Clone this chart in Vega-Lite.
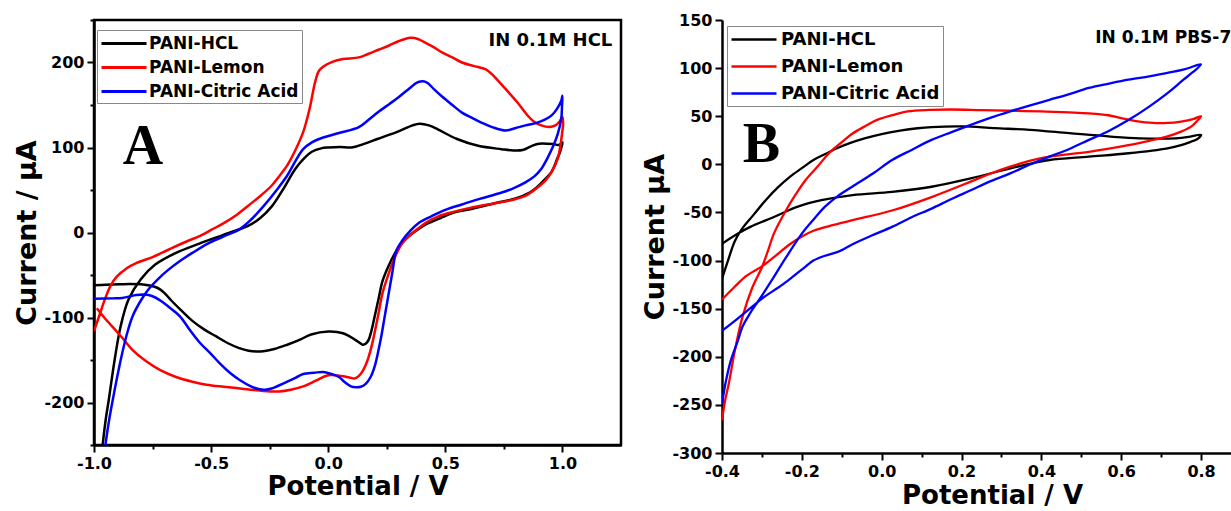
{
"$schema": "https://vega.github.io/schema/vega-lite/v6.json",
"padding": {"left": 12, "top": 12, "right": 0, "bottom": 0},
"bounds": "flush",
"spacing": 101,
"config": {"font": "DejaVu Sans", "view": {"stroke": null}, "axis": {"grid": false, "labelFlush": false, "domainColor": "black", "domainWidth": 2.5, "tickColor": "black", "tickWidth": 2, "labelColor": "black", "labelFont": "DejaVu Sans", "labelFontWeight": "bold", "labelFontSize": 16, "labelPadding": 3, "titleColor": "black", "titleFont": "DejaVu Sans", "titleFontWeight": "bold", "titleFontSize": 26}},
"resolve": {"scale": {"color": "independent"}, "legend": {"color": "independent"}},
"datasets": {
"a": [
{"s":"PANI-HCL","i":0,"v":-0.967,"c":-262},{"s":"PANI-HCL","i":1,"v":-0.963,"c":-250},{"s":"PANI-HCL","i":2,"v":-0.95,"c":-220},{"s":"PANI-HCL","i":3,"v":-0.937,"c":-197},{"s":"PANI-HCL","i":4,"v":-0.912,"c":-150},{"s":"PANI-HCL","i":5,"v":-0.886,"c":-110},{"s":"PANI-HCL","i":6,"v":-0.853,"c":-79},{"s":"PANI-HCL","i":7,"v":-0.80,"c":-55},{"s":"PANI-HCL","i":8,"v":-0.74,"c":-38},{"s":"PANI-HCL","i":9,"v":-0.65,"c":-24},{"s":"PANI-HCL","i":10,"v":-0.55,"c":-13},{"s":"PANI-HCL","i":11,"v":-0.45,"c":-3},{"s":"PANI-HCL","i":12,"v":-0.34,"c":8},{"s":"PANI-HCL","i":13,"v":-0.29,"c":17},{"s":"PANI-HCL","i":14,"v":-0.24,"c":31},{"s":"PANI-HCL","i":15,"v":-0.19,"c":52},{"s":"PANI-HCL","i":16,"v":-0.14,"c":75},{"s":"PANI-HCL","i":17,"v":-0.10,"c":88},{"s":"PANI-HCL","i":18,"v":-0.07,"c":95},{"s":"PANI-HCL","i":19,"v":-0.03,"c":99},{"s":"PANI-HCL","i":20,"v":0.0,"c":100},{"s":"PANI-HCL","i":21,"v":0.05,"c":100.5},{"s":"PANI-HCL","i":22,"v":0.1,"c":100},{"s":"PANI-HCL","i":23,"v":0.15,"c":104},{"s":"PANI-HCL","i":24,"v":0.21,"c":110},{"s":"PANI-HCL","i":25,"v":0.3,"c":119},{"s":"PANI-HCL","i":26,"v":0.36,"c":126},{"s":"PANI-HCL","i":27,"v":0.39,"c":128},{"s":"PANI-HCL","i":28,"v":0.43,"c":126},{"s":"PANI-HCL","i":29,"v":0.47,"c":121},{"s":"PANI-HCL","i":30,"v":0.55,"c":110},{"s":"PANI-HCL","i":31,"v":0.64,"c":102},{"s":"PANI-HCL","i":32,"v":0.74,"c":98},{"s":"PANI-HCL","i":33,"v":0.79,"c":96.5},{"s":"PANI-HCL","i":34,"v":0.83,"c":97},{"s":"PANI-HCL","i":35,"v":0.87,"c":102},{"s":"PANI-HCL","i":36,"v":0.9,"c":104.5},{"s":"PANI-HCL","i":37,"v":0.96,"c":104},{"s":"PANI-HCL","i":38,"v":0.985,"c":103},{"s":"PANI-HCL","i":39,"v":1.0,"c":106},{"s":"PANI-HCL","i":40,"v":0.99,"c":95},{"s":"PANI-HCL","i":41,"v":0.978,"c":87},{"s":"PANI-HCL","i":42,"v":0.955,"c":72},{"s":"PANI-HCL","i":43,"v":0.927,"c":63},{"s":"PANI-HCL","i":44,"v":0.89,"c":53},{"s":"PANI-HCL","i":45,"v":0.86,"c":47},{"s":"PANI-HCL","i":46,"v":0.8,"c":40},{"s":"PANI-HCL","i":47,"v":0.72,"c":35},{"s":"PANI-HCL","i":48,"v":0.6,"c":27},{"s":"PANI-HCL","i":49,"v":0.53,"c":23},{"s":"PANI-HCL","i":50,"v":0.47,"c":16},{"s":"PANI-HCL","i":51,"v":0.42,"c":10},{"s":"PANI-HCL","i":52,"v":0.385,"c":4},{"s":"PANI-HCL","i":53,"v":0.35,"c":-3},{"s":"PANI-HCL","i":54,"v":0.317,"c":-12},{"s":"PANI-HCL","i":55,"v":0.29,"c":-22},{"s":"PANI-HCL","i":56,"v":0.26,"c":-38},{"s":"PANI-HCL","i":57,"v":0.232,"c":-57},{"s":"PANI-HCL","i":58,"v":0.215,"c":-78},{"s":"PANI-HCL","i":59,"v":0.198,"c":-99},{"s":"PANI-HCL","i":60,"v":0.185,"c":-115},{"s":"PANI-HCL","i":61,"v":0.173,"c":-126},{"s":"PANI-HCL","i":62,"v":0.16,"c":-131},{"s":"PANI-HCL","i":63,"v":0.147,"c":-132},{"s":"PANI-HCL","i":64,"v":0.13,"c":-129},{"s":"PANI-HCL","i":65,"v":0.114,"c":-126},{"s":"PANI-HCL","i":66,"v":0.063,"c":-118.5},{"s":"PANI-HCL","i":67,"v":0.0,"c":-116.5},{"s":"PANI-HCL","i":68,"v":-0.073,"c":-120},{"s":"PANI-HCL","i":69,"v":-0.12,"c":-126},{"s":"PANI-HCL","i":70,"v":-0.175,"c":-132},{"s":"PANI-HCL","i":71,"v":-0.23,"c":-137},{"s":"PANI-HCL","i":72,"v":-0.29,"c":-140},{"s":"PANI-HCL","i":73,"v":-0.34,"c":-139},{"s":"PANI-HCL","i":74,"v":-0.38,"c":-136},{"s":"PANI-HCL","i":75,"v":-0.43,"c":-130},{"s":"PANI-HCL","i":76,"v":-0.48,"c":-122},{"s":"PANI-HCL","i":77,"v":-0.53,"c":-114},{"s":"PANI-HCL","i":78,"v":-0.58,"c":-104},{"s":"PANI-HCL","i":79,"v":-0.63,"c":-91},{"s":"PANI-HCL","i":80,"v":-0.67,"c":-80},{"s":"PANI-HCL","i":81,"v":-0.70,"c":-71},{"s":"PANI-HCL","i":82,"v":-0.73,"c":-65},{"s":"PANI-HCL","i":83,"v":-0.77,"c":-62},{"s":"PANI-HCL","i":84,"v":-0.8,"c":-61},{"s":"PANI-HCL","i":85,"v":-0.85,"c":-60.5},{"s":"PANI-HCL","i":86,"v":-0.89,"c":-61},{"s":"PANI-HCL","i":87,"v":-0.95,"c":-61.5},{"s":"PANI-HCL","i":88,"v":-1.0,"c":-62},
{"s":"PANI-Lemon","i":0,"v":-1.0,"c":-116},{"s":"PANI-Lemon","i":1,"v":-0.98,"c":-100},{"s":"PANI-Lemon","i":2,"v":-0.954,"c":-79},{"s":"PANI-Lemon","i":3,"v":-0.93,"c":-63},{"s":"PANI-Lemon","i":4,"v":-0.903,"c":-52},{"s":"PANI-Lemon","i":5,"v":-0.86,"c":-42},{"s":"PANI-Lemon","i":6,"v":-0.82,"c":-36},{"s":"PANI-Lemon","i":7,"v":-0.75,"c":-29},{"s":"PANI-Lemon","i":8,"v":-0.68,"c":-20},{"s":"PANI-Lemon","i":9,"v":-0.6,"c":-10},{"s":"PANI-Lemon","i":10,"v":-0.547,"c":-4},{"s":"PANI-Lemon","i":11,"v":-0.5,"c":3},{"s":"PANI-Lemon","i":12,"v":-0.446,"c":11},{"s":"PANI-Lemon","i":13,"v":-0.39,"c":21},{"s":"PANI-Lemon","i":14,"v":-0.344,"c":31},{"s":"PANI-Lemon","i":15,"v":-0.29,"c":43},{"s":"PANI-Lemon","i":16,"v":-0.242,"c":55},{"s":"PANI-Lemon","i":17,"v":-0.21,"c":66},{"s":"PANI-Lemon","i":18,"v":-0.175,"c":79},{"s":"PANI-Lemon","i":19,"v":-0.14,"c":97},{"s":"PANI-Lemon","i":20,"v":-0.107,"c":118},{"s":"PANI-Lemon","i":21,"v":-0.08,"c":145},{"s":"PANI-Lemon","i":22,"v":-0.056,"c":177},{"s":"PANI-Lemon","i":23,"v":-0.04,"c":190},{"s":"PANI-Lemon","i":24,"v":-0.022,"c":195},{"s":"PANI-Lemon","i":25,"v":0.02,"c":201},{"s":"PANI-Lemon","i":26,"v":0.063,"c":204},{"s":"PANI-Lemon","i":27,"v":0.131,"c":206},{"s":"PANI-Lemon","i":28,"v":0.17,"c":210},{"s":"PANI-Lemon","i":29,"v":0.215,"c":215},{"s":"PANI-Lemon","i":30,"v":0.26,"c":220},{"s":"PANI-Lemon","i":31,"v":0.3,"c":225},{"s":"PANI-Lemon","i":32,"v":0.351,"c":229},{"s":"PANI-Lemon","i":33,"v":0.38,"c":228},{"s":"PANI-Lemon","i":34,"v":0.41,"c":224},{"s":"PANI-Lemon","i":35,"v":0.45,"c":218},{"s":"PANI-Lemon","i":36,"v":0.486,"c":212},{"s":"PANI-Lemon","i":37,"v":0.53,"c":206},{"s":"PANI-Lemon","i":38,"v":0.571,"c":200},{"s":"PANI-Lemon","i":39,"v":0.62,"c":196},{"s":"PANI-Lemon","i":40,"v":0.673,"c":192},{"s":"PANI-Lemon","i":41,"v":0.70,"c":186},{"s":"PANI-Lemon","i":42,"v":0.724,"c":179},{"s":"PANI-Lemon","i":43,"v":0.76,"c":168},{"s":"PANI-Lemon","i":44,"v":0.808,"c":153},{"s":"PANI-Lemon","i":45,"v":0.85,"c":138},{"s":"PANI-Lemon","i":46,"v":0.876,"c":131},{"s":"PANI-Lemon","i":47,"v":0.91,"c":126},{"s":"PANI-Lemon","i":48,"v":0.944,"c":124},{"s":"PANI-Lemon","i":49,"v":0.97,"c":126},{"s":"PANI-Lemon","i":50,"v":0.986,"c":130},{"s":"PANI-Lemon","i":51,"v":1.0,"c":136},{"s":"PANI-Lemon","i":52,"v":1.003,"c":128},{"s":"PANI-Lemon","i":53,"v":1.0,"c":120},{"s":"PANI-Lemon","i":54,"v":0.99,"c":100},{"s":"PANI-Lemon","i":55,"v":0.98,"c":87},{"s":"PANI-Lemon","i":56,"v":0.955,"c":72},{"s":"PANI-Lemon","i":57,"v":0.927,"c":61},{"s":"PANI-Lemon","i":58,"v":0.88,"c":50},{"s":"PANI-Lemon","i":59,"v":0.842,"c":43},{"s":"PANI-Lemon","i":60,"v":0.78,"c":38},{"s":"PANI-Lemon","i":61,"v":0.724,"c":35},{"s":"PANI-Lemon","i":62,"v":0.605,"c":29},{"s":"PANI-Lemon","i":63,"v":0.53,"c":24},{"s":"PANI-Lemon","i":64,"v":0.47,"c":19},{"s":"PANI-Lemon","i":65,"v":0.42,"c":12},{"s":"PANI-Lemon","i":66,"v":0.385,"c":5},{"s":"PANI-Lemon","i":67,"v":0.35,"c":-3},{"s":"PANI-Lemon","i":68,"v":0.317,"c":-12},{"s":"PANI-Lemon","i":69,"v":0.283,"c":-30},{"s":"PANI-Lemon","i":70,"v":0.26,"c":-47},{"s":"PANI-Lemon","i":71,"v":0.232,"c":-71},{"s":"PANI-Lemon","i":72,"v":0.215,"c":-95},{"s":"PANI-Lemon","i":73,"v":0.198,"c":-118},{"s":"PANI-Lemon","i":74,"v":0.185,"c":-134},{"s":"PANI-Lemon","i":75,"v":0.173,"c":-146},{"s":"PANI-Lemon","i":76,"v":0.16,"c":-156},{"s":"PANI-Lemon","i":77,"v":0.147,"c":-163},{"s":"PANI-Lemon","i":78,"v":0.13,"c":-169},{"s":"PANI-Lemon","i":79,"v":0.114,"c":-171.6},{"s":"PANI-Lemon","i":80,"v":0.09,"c":-170.5},{"s":"PANI-Lemon","i":81,"v":0.063,"c":-169},{"s":"PANI-Lemon","i":82,"v":0.0,"c":-168},{"s":"PANI-Lemon","i":83,"v":-0.05,"c":-174},{"s":"PANI-Lemon","i":84,"v":-0.107,"c":-181},{"s":"PANI-Lemon","i":85,"v":-0.16,"c":-185},{"s":"PANI-Lemon","i":86,"v":-0.208,"c":-187},{"s":"PANI-Lemon","i":87,"v":-0.276,"c":-186.5},{"s":"PANI-Lemon","i":88,"v":-0.36,"c":-184},{"s":"PANI-Lemon","i":89,"v":-0.446,"c":-181.5},{"s":"PANI-Lemon","i":90,"v":-0.52,"c":-179},{"s":"PANI-Lemon","i":91,"v":-0.58,"c":-175.5},{"s":"PANI-Lemon","i":92,"v":-0.65,"c":-170},{"s":"PANI-Lemon","i":93,"v":-0.717,"c":-162},{"s":"PANI-Lemon","i":94,"v":-0.78,"c":-151},{"s":"PANI-Lemon","i":95,"v":-0.836,"c":-138},{"s":"PANI-Lemon","i":96,"v":-0.87,"c":-127},{"s":"PANI-Lemon","i":97,"v":-0.903,"c":-116.5},{"s":"PANI-Lemon","i":98,"v":-0.95,"c":-102},{"s":"PANI-Lemon","i":99,"v":-0.988,"c":-89},
{"s":"PANI-Citric Acid","i":0,"v":-0.955,"c":-262},{"s":"PANI-Citric Acid","i":1,"v":-0.951,"c":-250},{"s":"PANI-Citric Acid","i":2,"v":-0.935,"c":-220},{"s":"PANI-Citric Acid","i":3,"v":-0.92,"c":-197},{"s":"PANI-Citric Acid","i":4,"v":-0.886,"c":-150},{"s":"PANI-Citric Acid","i":5,"v":-0.86,"c":-120},{"s":"PANI-Citric Acid","i":6,"v":-0.836,"c":-99},{"s":"PANI-Citric Acid","i":7,"v":-0.8,"c":-80},{"s":"PANI-Citric Acid","i":8,"v":-0.768,"c":-67},{"s":"PANI-Citric Acid","i":9,"v":-0.72,"c":-53},{"s":"PANI-Citric Acid","i":10,"v":-0.683,"c":-44},{"s":"PANI-Citric Acid","i":11,"v":-0.63,"c":-33},{"s":"PANI-Citric Acid","i":12,"v":-0.58,"c":-24},{"s":"PANI-Citric Acid","i":13,"v":-0.514,"c":-13},{"s":"PANI-Citric Acid","i":14,"v":-0.45,"c":-5},{"s":"PANI-Citric Acid","i":15,"v":-0.378,"c":4},{"s":"PANI-Citric Acid","i":16,"v":-0.33,"c":15},{"s":"PANI-Citric Acid","i":17,"v":-0.276,"c":31},{"s":"PANI-Citric Acid","i":18,"v":-0.22,"c":50},{"s":"PANI-Citric Acid","i":19,"v":-0.175,"c":67},{"s":"PANI-Citric Acid","i":20,"v":-0.14,"c":84},{"s":"PANI-Citric Acid","i":21,"v":-0.107,"c":98},{"s":"PANI-Citric Acid","i":22,"v":-0.07,"c":106},{"s":"PANI-Citric Acid","i":23,"v":-0.039,"c":110},{"s":"PANI-Citric Acid","i":24,"v":0.046,"c":117},{"s":"PANI-Citric Acid","i":25,"v":0.131,"c":124},{"s":"PANI-Citric Acid","i":26,"v":0.17,"c":132},{"s":"PANI-Citric Acid","i":27,"v":0.215,"c":142},{"s":"PANI-Citric Acid","i":28,"v":0.26,"c":151},{"s":"PANI-Citric Acid","i":29,"v":0.3,"c":159},{"s":"PANI-Citric Acid","i":30,"v":0.34,"c":168},{"s":"PANI-Citric Acid","i":31,"v":0.385,"c":177},{"s":"PANI-Citric Acid","i":32,"v":0.418,"c":177},{"s":"PANI-Citric Acid","i":33,"v":0.45,"c":169},{"s":"PANI-Citric Acid","i":34,"v":0.486,"c":160},{"s":"PANI-Citric Acid","i":35,"v":0.53,"c":150},{"s":"PANI-Citric Acid","i":36,"v":0.571,"c":141},{"s":"PANI-Citric Acid","i":37,"v":0.62,"c":134},{"s":"PANI-Citric Acid","i":38,"v":0.656,"c":129},{"s":"PANI-Citric Acid","i":39,"v":0.7,"c":124},{"s":"PANI-Citric Acid","i":40,"v":0.758,"c":120},{"s":"PANI-Citric Acid","i":41,"v":0.8,"c":123},{"s":"PANI-Citric Acid","i":42,"v":0.842,"c":126},{"s":"PANI-Citric Acid","i":43,"v":0.89,"c":129},{"s":"PANI-Citric Acid","i":44,"v":0.927,"c":133},{"s":"PANI-Citric Acid","i":45,"v":0.955,"c":138},{"s":"PANI-Citric Acid","i":46,"v":0.978,"c":146},{"s":"PANI-Citric Acid","i":47,"v":0.995,"c":155},{"s":"PANI-Citric Acid","i":48,"v":1.0,"c":161},{"s":"PANI-Citric Acid","i":49,"v":0.998,"c":148},{"s":"PANI-Citric Acid","i":50,"v":0.995,"c":134},{"s":"PANI-Citric Acid","i":51,"v":0.98,"c":116},{"s":"PANI-Citric Acid","i":52,"v":0.961,"c":102},{"s":"PANI-Citric Acid","i":53,"v":0.935,"c":87},{"s":"PANI-Citric Acid","i":54,"v":0.91,"c":75},{"s":"PANI-Citric Acid","i":55,"v":0.88,"c":66},{"s":"PANI-Citric Acid","i":56,"v":0.842,"c":59},{"s":"PANI-Citric Acid","i":57,"v":0.79,"c":52},{"s":"PANI-Citric Acid","i":58,"v":0.741,"c":47},{"s":"PANI-Citric Acid","i":59,"v":0.639,"c":39},{"s":"PANI-Citric Acid","i":60,"v":0.57,"c":33},{"s":"PANI-Citric Acid","i":61,"v":0.503,"c":27},{"s":"PANI-Citric Acid","i":62,"v":0.44,"c":19},{"s":"PANI-Citric Acid","i":63,"v":0.385,"c":11},{"s":"PANI-Citric Acid","i":64,"v":0.35,"c":2},{"s":"PANI-Citric Acid","i":65,"v":0.317,"c":-9},{"s":"PANI-Citric Acid","i":66,"v":0.29,"c":-22},{"s":"PANI-Citric Acid","i":67,"v":0.275,"c":-45},{"s":"PANI-Citric Acid","i":68,"v":0.258,"c":-72},{"s":"PANI-Citric Acid","i":69,"v":0.241,"c":-99},{"s":"PANI-Citric Acid","i":70,"v":0.228,"c":-120},{"s":"PANI-Citric Acid","i":71,"v":0.215,"c":-138},{"s":"PANI-Citric Acid","i":72,"v":0.2,"c":-156},{"s":"PANI-Citric Acid","i":73,"v":0.181,"c":-170},{"s":"PANI-Citric Acid","i":74,"v":0.16,"c":-178},{"s":"PANI-Citric Acid","i":75,"v":0.139,"c":-181.5},{"s":"PANI-Citric Acid","i":76,"v":0.118,"c":-182},{"s":"PANI-Citric Acid","i":77,"v":0.097,"c":-181},{"s":"PANI-Citric Acid","i":78,"v":0.07,"c":-176},{"s":"PANI-Citric Acid","i":79,"v":0.046,"c":-170},{"s":"PANI-Citric Acid","i":80,"v":0.01,"c":-166},{"s":"PANI-Citric Acid","i":81,"v":-0.022,"c":-164},{"s":"PANI-Citric Acid","i":82,"v":-0.06,"c":-165},{"s":"PANI-Citric Acid","i":83,"v":-0.107,"c":-166.5},{"s":"PANI-Citric Acid","i":84,"v":-0.14,"c":-171},{"s":"PANI-Citric Acid","i":85,"v":-0.175,"c":-175.5},{"s":"PANI-Citric Acid","i":86,"v":-0.242,"c":-183.5},{"s":"PANI-Citric Acid","i":87,"v":-0.27,"c":-185},{"s":"PANI-Citric Acid","i":88,"v":-0.293,"c":-184.5},{"s":"PANI-Citric Acid","i":89,"v":-0.33,"c":-181},{"s":"PANI-Citric Acid","i":90,"v":-0.378,"c":-173.5},{"s":"PANI-Citric Acid","i":91,"v":-0.42,"c":-165},{"s":"PANI-Citric Acid","i":92,"v":-0.463,"c":-154},{"s":"PANI-Citric Acid","i":93,"v":-0.5,"c":-143},{"s":"PANI-Citric Acid","i":94,"v":-0.547,"c":-130},{"s":"PANI-Citric Acid","i":95,"v":-0.59,"c":-115},{"s":"PANI-Citric Acid","i":96,"v":-0.632,"c":-99},{"s":"PANI-Citric Acid","i":97,"v":-0.66,"c":-92},{"s":"PANI-Citric Acid","i":98,"v":-0.683,"c":-87},{"s":"PANI-Citric Acid","i":99,"v":-0.717,"c":-80},{"s":"PANI-Citric Acid","i":100,"v":-0.75,"c":-75},{"s":"PANI-Citric Acid","i":101,"v":-0.785,"c":-73},{"s":"PANI-Citric Acid","i":102,"v":-0.82,"c":-73.5},{"s":"PANI-Citric Acid","i":103,"v":-0.853,"c":-75.5},{"s":"PANI-Citric Acid","i":104,"v":-0.88,"c":-77},{"s":"PANI-Citric Acid","i":105,"v":-0.92,"c":-77.5},{"s":"PANI-Citric Acid","i":106,"v":-1.0,"c":-78}
],
"b": [
{"s":"PANI-HCL","i":0,"v":-0.4,"c":-119},{"s":"PANI-HCL","i":1,"v":-0.385,"c":-100},{"s":"PANI-HCL","i":2,"v":-0.368,"c":-80},{"s":"PANI-HCL","i":3,"v":-0.35,"c":-67},{"s":"PANI-HCL","i":4,"v":-0.32,"c":-52},{"s":"PANI-HCL","i":5,"v":-0.29,"c":-37},{"s":"PANI-HCL","i":6,"v":-0.26,"c":-24},{"s":"PANI-HCL","i":7,"v":-0.23,"c":-13},{"s":"PANI-HCL","i":8,"v":-0.2,"c":-4},{"s":"PANI-HCL","i":9,"v":-0.171,"c":4.5},{"s":"PANI-HCL","i":10,"v":-0.14,"c":11},{"s":"PANI-HCL","i":11,"v":-0.112,"c":16.7},{"s":"PANI-HCL","i":12,"v":-0.08,"c":22},{"s":"PANI-HCL","i":13,"v":-0.043,"c":27},{"s":"PANI-HCL","i":14,"v":0.0,"c":31.5},{"s":"PANI-HCL","i":15,"v":0.046,"c":35},{"s":"PANI-HCL","i":16,"v":0.09,"c":37.5},{"s":"PANI-HCL","i":17,"v":0.125,"c":38.7},{"s":"PANI-HCL","i":18,"v":0.204,"c":39.4},{"s":"PANI-HCL","i":19,"v":0.282,"c":37.6},{"s":"PANI-HCL","i":20,"v":0.371,"c":35.9},{"s":"PANI-HCL","i":21,"v":0.47,"c":32.4},{"s":"PANI-HCL","i":22,"v":0.568,"c":29},{"s":"PANI-HCL","i":23,"v":0.647,"c":27},{"s":"PANI-HCL","i":24,"v":0.736,"c":27},{"s":"PANI-HCL","i":25,"v":0.77,"c":28.5},{"s":"PANI-HCL","i":26,"v":0.8,"c":30.7},{"s":"PANI-HCL","i":27,"v":0.79,"c":26},{"s":"PANI-HCL","i":28,"v":0.776,"c":23.7},{"s":"PANI-HCL","i":29,"v":0.75,"c":20},{"s":"PANI-HCL","i":30,"v":0.716,"c":16.7},{"s":"PANI-HCL","i":31,"v":0.618,"c":11.5},{"s":"PANI-HCL","i":32,"v":0.519,"c":8},{"s":"PANI-HCL","i":33,"v":0.42,"c":4.5},{"s":"PANI-HCL","i":34,"v":0.37,"c":0.5},{"s":"PANI-HCL","i":35,"v":0.322,"c":-4.2},{"s":"PANI-HCL","i":36,"v":0.223,"c":-14.6},{"s":"PANI-HCL","i":37,"v":0.125,"c":-23.3},{"s":"PANI-HCL","i":38,"v":0.026,"c":-28.6},{"s":"PANI-HCL","i":39,"v":-0.073,"c":-32},{"s":"PANI-HCL","i":40,"v":-0.151,"c":-37.3},{"s":"PANI-HCL","i":41,"v":-0.21,"c":-44},{"s":"PANI-HCL","i":42,"v":-0.27,"c":-54.7},{"s":"PANI-HCL","i":43,"v":-0.329,"c":-65},{"s":"PANI-HCL","i":44,"v":-0.36,"c":-72},{"s":"PANI-HCL","i":45,"v":-0.4,"c":-82.6},
{"s":"PANI-Lemon","i":0,"v":-0.4,"c":-266},{"s":"PANI-Lemon","i":1,"v":-0.392,"c":-245},{"s":"PANI-Lemon","i":2,"v":-0.383,"c":-228},{"s":"PANI-Lemon","i":3,"v":-0.368,"c":-194},{"s":"PANI-Lemon","i":4,"v":-0.349,"c":-159},{"s":"PANI-Lemon","i":5,"v":-0.324,"c":-128},{"s":"PANI-Lemon","i":6,"v":-0.3,"c":-107},{"s":"PANI-Lemon","i":7,"v":-0.285,"c":-90},{"s":"PANI-Lemon","i":8,"v":-0.27,"c":-72},{"s":"PANI-Lemon","i":9,"v":-0.24,"c":-48},{"s":"PANI-Lemon","i":10,"v":-0.215,"c":-31},{"s":"PANI-Lemon","i":11,"v":-0.19,"c":-16},{"s":"PANI-Lemon","i":12,"v":-0.16,"c":-2},{"s":"PANI-Lemon","i":13,"v":-0.132,"c":11.5},{"s":"PANI-Lemon","i":14,"v":-0.1,"c":23},{"s":"PANI-Lemon","i":15,"v":-0.073,"c":32},{"s":"PANI-Lemon","i":16,"v":-0.04,"c":40},{"s":"PANI-Lemon","i":17,"v":-0.013,"c":46},{"s":"PANI-Lemon","i":18,"v":0.03,"c":51.5},{"s":"PANI-Lemon","i":19,"v":0.065,"c":55},{"s":"PANI-Lemon","i":20,"v":0.12,"c":56.5},{"s":"PANI-Lemon","i":21,"v":0.174,"c":57},{"s":"PANI-Lemon","i":22,"v":0.25,"c":56.3},{"s":"PANI-Lemon","i":23,"v":0.322,"c":55.7},{"s":"PANI-Lemon","i":24,"v":0.4,"c":55},{"s":"PANI-Lemon","i":25,"v":0.47,"c":54},{"s":"PANI-Lemon","i":26,"v":0.52,"c":53},{"s":"PANI-Lemon","i":27,"v":0.568,"c":51},{"s":"PANI-Lemon","i":28,"v":0.6,"c":48},{"s":"PANI-Lemon","i":29,"v":0.637,"c":45},{"s":"PANI-Lemon","i":30,"v":0.68,"c":43},{"s":"PANI-Lemon","i":31,"v":0.716,"c":43},{"s":"PANI-Lemon","i":32,"v":0.75,"c":44.5},{"s":"PANI-Lemon","i":33,"v":0.78,"c":47},{"s":"PANI-Lemon","i":34,"v":0.8,"c":50},{"s":"PANI-Lemon","i":35,"v":0.79,"c":45},{"s":"PANI-Lemon","i":36,"v":0.776,"c":39.5},{"s":"PANI-Lemon","i":37,"v":0.75,"c":34},{"s":"PANI-Lemon","i":38,"v":0.716,"c":29},{"s":"PANI-Lemon","i":39,"v":0.67,"c":24.5},{"s":"PANI-Lemon","i":40,"v":0.618,"c":20},{"s":"PANI-Lemon","i":41,"v":0.519,"c":13},{"s":"PANI-Lemon","i":42,"v":0.42,"c":8},{"s":"PANI-Lemon","i":43,"v":0.37,"c":3.5},{"s":"PANI-Lemon","i":44,"v":0.322,"c":-2.4},{"s":"PANI-Lemon","i":45,"v":0.27,"c":-10},{"s":"PANI-Lemon","i":46,"v":0.223,"c":-18},{"s":"PANI-Lemon","i":47,"v":0.125,"c":-34},{"s":"PANI-Lemon","i":48,"v":0.026,"c":-48},{"s":"PANI-Lemon","i":49,"v":-0.073,"c":-58},{"s":"PANI-Lemon","i":50,"v":-0.12,"c":-63},{"s":"PANI-Lemon","i":51,"v":-0.171,"c":-69},{"s":"PANI-Lemon","i":52,"v":-0.2,"c":-75},{"s":"PANI-Lemon","i":53,"v":-0.23,"c":-83},{"s":"PANI-Lemon","i":54,"v":-0.27,"c":-96.5},{"s":"PANI-Lemon","i":55,"v":-0.3,"c":-106},{"s":"PANI-Lemon","i":56,"v":-0.339,"c":-116},{"s":"PANI-Lemon","i":57,"v":-0.37,"c":-128},{"s":"PANI-Lemon","i":58,"v":-0.4,"c":-140.5},
{"s":"PANI-Citric Acid","i":0,"v":-0.4,"c":-249},{"s":"PANI-Citric Acid","i":1,"v":-0.39,"c":-225},{"s":"PANI-Citric Acid","i":2,"v":-0.378,"c":-204},{"s":"PANI-Citric Acid","i":3,"v":-0.36,"c":-183},{"s":"PANI-Citric Acid","i":4,"v":-0.349,"c":-169},{"s":"PANI-Citric Acid","i":5,"v":-0.33,"c":-155},{"s":"PANI-Citric Acid","i":6,"v":-0.309,"c":-142},{"s":"PANI-Citric Acid","i":7,"v":-0.29,"c":-130},{"s":"PANI-Citric Acid","i":8,"v":-0.27,"c":-117},{"s":"PANI-Citric Acid","i":9,"v":-0.24,"c":-97},{"s":"PANI-Citric Acid","i":10,"v":-0.2,"c":-72},{"s":"PANI-Citric Acid","i":11,"v":-0.17,"c":-57},{"s":"PANI-Citric Acid","i":12,"v":-0.142,"c":-44},{"s":"PANI-Citric Acid","i":13,"v":-0.11,"c":-33},{"s":"PANI-Citric Acid","i":14,"v":-0.073,"c":-23},{"s":"PANI-Citric Acid","i":15,"v":-0.02,"c":-9},{"s":"PANI-Citric Acid","i":16,"v":0.026,"c":4.5},{"s":"PANI-Citric Acid","i":17,"v":0.075,"c":15},{"s":"PANI-Citric Acid","i":18,"v":0.125,"c":25.4},{"s":"PANI-Citric Acid","i":19,"v":0.175,"c":33.5},{"s":"PANI-Citric Acid","i":20,"v":0.223,"c":41},{"s":"PANI-Citric Acid","i":21,"v":0.27,"c":48},{"s":"PANI-Citric Acid","i":22,"v":0.322,"c":55},{"s":"PANI-Citric Acid","i":23,"v":0.37,"c":61},{"s":"PANI-Citric Acid","i":24,"v":0.42,"c":67},{"s":"PANI-Citric Acid","i":25,"v":0.47,"c":73},{"s":"PANI-Citric Acid","i":26,"v":0.519,"c":79.4},{"s":"PANI-Citric Acid","i":27,"v":0.57,"c":84},{"s":"PANI-Citric Acid","i":28,"v":0.618,"c":88},{"s":"PANI-Citric Acid","i":29,"v":0.67,"c":91.5},{"s":"PANI-Citric Acid","i":30,"v":0.716,"c":95},{"s":"PANI-Citric Acid","i":31,"v":0.76,"c":99},{"s":"PANI-Citric Acid","i":32,"v":0.8,"c":104},{"s":"PANI-Citric Acid","i":33,"v":0.78,"c":96},{"s":"PANI-Citric Acid","i":34,"v":0.756,"c":88},{"s":"PANI-Citric Acid","i":35,"v":0.716,"c":74},{"s":"PANI-Citric Acid","i":36,"v":0.67,"c":60},{"s":"PANI-Citric Acid","i":37,"v":0.618,"c":46},{"s":"PANI-Citric Acid","i":38,"v":0.57,"c":35},{"s":"PANI-Citric Acid","i":39,"v":0.519,"c":25.4},{"s":"PANI-Citric Acid","i":40,"v":0.47,"c":16},{"s":"PANI-Citric Acid","i":41,"v":0.42,"c":8},{"s":"PANI-Citric Acid","i":42,"v":0.37,"c":-0.5},{"s":"PANI-Citric Acid","i":43,"v":0.322,"c":-9.4},{"s":"PANI-Citric Acid","i":44,"v":0.27,"c":-18},{"s":"PANI-Citric Acid","i":45,"v":0.223,"c":-27},{"s":"PANI-Citric Acid","i":46,"v":0.175,"c":-36},{"s":"PANI-Citric Acid","i":47,"v":0.125,"c":-46},{"s":"PANI-Citric Acid","i":48,"v":0.075,"c":-55},{"s":"PANI-Citric Acid","i":49,"v":0.026,"c":-65},{"s":"PANI-Citric Acid","i":50,"v":-0.025,"c":-74},{"s":"PANI-Citric Acid","i":51,"v":-0.073,"c":-83},{"s":"PANI-Citric Acid","i":52,"v":-0.11,"c":-91},{"s":"PANI-Citric Acid","i":53,"v":-0.142,"c":-95},{"s":"PANI-Citric Acid","i":54,"v":-0.171,"c":-100},{"s":"PANI-Citric Acid","i":55,"v":-0.19,"c":-106},{"s":"PANI-Citric Acid","i":56,"v":-0.22,"c":-116},{"s":"PANI-Citric Acid","i":57,"v":-0.245,"c":-124},{"s":"PANI-Citric Acid","i":58,"v":-0.27,"c":-131},{"s":"PANI-Citric Acid","i":59,"v":-0.295,"c":-138},{"s":"PANI-Citric Acid","i":60,"v":-0.319,"c":-146},{"s":"PANI-Citric Acid","i":61,"v":-0.36,"c":-160},{"s":"PANI-Citric Acid","i":62,"v":-0.4,"c":-173}
],
"notesA": [{"t":"IN 0.1M HCL","k":"note","v":1.213,"c":220},{"t":"A","k":"big","v":-0.791,"c":81}],
"notesB": [{"t":"IN 0.1M PBS-7","k":"note","v":0.535,"c":125.6},{"t":"B","k":"big","v":-0.301,"c":2}]
},
"hconcat": [
{
"width": 527, "height": 425,
"view": {"stroke": "black", "strokeWidth": 2.5},
"layer": [
{"data": {"name": "a"}, "mark": {"type": "line", "strokeWidth": 2.5, "clip": true, "interpolate": "catmull-rom"},
 "encoding": {
  "x": {"field": "v", "type": "quantitative", "scale": {"domain": [-1.0, 1.25], "nice": false, "zero": false},
   "axis": {"title": "Potential / V", "values": [-1,-0.75,-0.5,-0.25,0,0.25,0.5,0.75,1], "labelExpr": "abs(datum.value*2 - round(datum.value*2)) < 0.001 ? (datum.value < 0 ? '-' : '') + format(abs(datum.value), '.1f') : ''", "tickSize": {"condition": {"test": "abs(datum.value*2 - round(datum.value*2)) < 0.001", "value": 7}, "value": 4}, "titlePadding": 2}},
  "y": {"field": "c", "type": "quantitative", "scale": {"domain": [-250, 250], "nice": false, "zero": false},
   "axis": {"title": "Current / μA", "titleFontSize": 27, "values": [-250,-200,-150,-100,-50,0,50,100,150,200,250], "labelExpr": "datum.value % 100 == 0 ? (datum.value < 0 ? '-' : '') + format(abs(datum.value), 'd') : ''", "tickSize": {"condition": {"test": "datum.value % 100 == 0", "value": 7}, "value": 4}, "titlePadding": 2}},
  "color": {"field": "s", "type": "nominal", "scale": {"domain": ["PANI-HCL","PANI-Lemon","PANI-Citric Acid"], "range": ["#000000","#ff0000","#0000ff"]},
   "legend": {"orient": "none", "legendX": 3, "legendY": 10, "title": null, "symbolType": "M-1,0H4", "symbolSize": 324, "symbolStrokeWidth": 3, "labelFont": "DejaVu Sans", "labelFontWeight": "bold", "labelFontSize": 17, "labelColor": "black", "strokeColor": "#888888", "fillColor": "white", "padding": 3, "rowPadding": 5, "labelOffset": 28}},
  "order": {"field": "i", "type": "quantitative"}
 }},
{"data": {"name": "notesA"}, "transform": [{"filter": "datum.k == 'note'"}], "mark": {"type": "text", "align": "right", "baseline": "alphabetic", "font": "DejaVu Sans", "fontWeight": "bold", "fontSize": 18, "color": "black"},
 "encoding": {"x": {"field": "v", "type": "quantitative"}, "y": {"field": "c", "type": "quantitative"}, "text": {"field": "t"}}},
{"data": {"name": "notesA"}, "transform": [{"filter": "datum.k == 'big'"}], "mark": {"type": "text", "align": "center", "baseline": "alphabetic", "font": "Liberation Serif", "fontWeight": "bold", "fontSize": 56, "color": "black"},
 "encoding": {"x": {"field": "v", "type": "quantitative"}, "y": {"field": "c", "type": "quantitative"}, "text": {"field": "t"}}}
]
},
{
"width": 511, "height": 433,
"layer": [
{"data": {"name": "b"}, "mark": {"type": "line", "strokeWidth": 2.3, "clip": true, "interpolate": "catmull-rom"},
 "encoding": {
  "x": {"field": "v", "type": "quantitative", "scale": {"domain": [-0.4, 0.88], "nice": false, "zero": false},
   "axis": {"title": "Potential / V", "values": [-0.4,-0.3,-0.2,-0.1,0,0.1,0.2,0.3,0.4,0.5,0.6,0.7,0.8], "labelExpr": "round(abs(datum.value)*10) % 2 == 0 ? (datum.value < -0.001 ? '-' : '') + format(abs(datum.value), '.1f') : ''", "tickSize": {"condition": {"test": "round(abs(datum.value)*10) % 2 == 0", "value": 7}, "value": 4}, "titlePadding": 3, "titleX": 270}},
  "y": {"field": "c", "type": "quantitative", "scale": {"domain": [-300, 150], "nice": false, "zero": false},
   "axis": {"title": "Current μA", "titleFontSize": 27, "values": [-300,-275,-250,-225,-200,-175,-150,-125,-100,-75,-50,-25,0,25,50,75,100,125,150], "labelExpr": "datum.value % 50 == 0 ? (datum.value < 0 ? '-' : '') + format(abs(datum.value), 'd') : ''", "tickSize": {"condition": {"test": "datum.value % 50 == 0", "value": 7}, "value": 4}, "titlePadding": 2}},
  "color": {"field": "s", "type": "nominal", "scale": {"domain": ["PANI-HCL","PANI-Lemon","PANI-Citric Acid"], "range": ["#000000","#ff0000","#0000ff"]},
   "legend": {"orient": "none", "legendX": 5, "legendY": 6, "title": null, "symbolType": "M-1,0H4", "symbolSize": 324, "symbolStrokeWidth": 2.5, "labelFont": "DejaVu Sans", "labelFontWeight": "bold", "labelFontSize": 18, "labelColor": "black", "strokeColor": "#888888", "fillColor": "white", "padding": 3, "rowPadding": 7, "labelOffset": 30}},
  "order": {"field": "i", "type": "quantitative"}
 }},
{"mark": {"type": "rule", "strokeWidth": 2.5, "color": "black"}, "encoding": {"y": {"datum": 150}}},
{"data": {"name": "notesB"}, "transform": [{"filter": "datum.k == 'note'"}], "mark": {"type": "text", "align": "left", "baseline": "alphabetic", "font": "DejaVu Sans", "fontWeight": "bold", "fontSize": 17, "color": "black", "clip": true},
 "encoding": {"x": {"field": "v", "type": "quantitative"}, "y": {"field": "c", "type": "quantitative"}, "text": {"field": "t"}}},
{"data": {"name": "notesB"}, "transform": [{"filter": "datum.k == 'big'"}], "mark": {"type": "text", "align": "center", "baseline": "alphabetic", "font": "Liberation Serif", "fontWeight": "bold", "fontSize": 56, "color": "black"},
 "encoding": {"x": {"field": "v", "type": "quantitative"}, "y": {"field": "c", "type": "quantitative"}, "text": {"field": "t"}}}
]
}
]
}
